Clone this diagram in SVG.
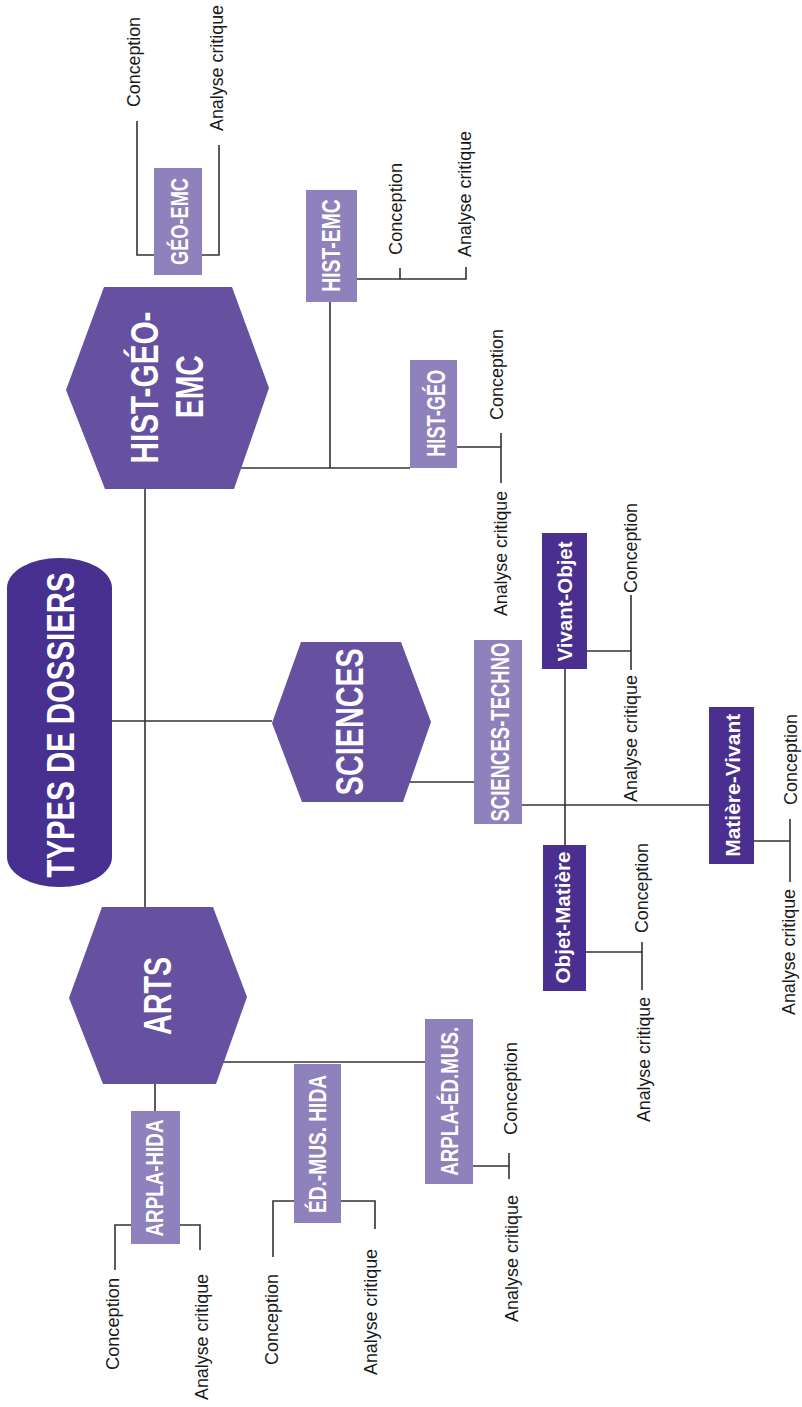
<svg xmlns="http://www.w3.org/2000/svg" width="802" height="1407" viewBox="0 0 802 1407">
<style>
.ln{fill:none;stroke:#333;stroke-width:1.6}
.hex{fill:#6650a0}
.lt{fill:#8f81bb}
.dk{fill:#4a2f90}
.pill{fill:#47308f}
.big{font-family:"Liberation Sans",Arial,sans-serif;font-weight:bold;fill:#fff;text-anchor:middle}
.bt{font-family:"Liberation Sans",Arial,sans-serif;font-weight:bold;fill:#fff;text-anchor:middle}
.sm{font-family:"Liberation Sans",Arial,sans-serif;font-size:18.5px;fill:#1a1a1a}
</style>
<rect width="802" height="1407" fill="#fff"/>
<g id="connectors">
<path class="ln" d="M145,489 V907"/>
<path class="ln" d="M112,721 H272"/>
<path class="ln" d="M241,468 H410"/>
<path class="ln" d="M330,302 V468"/>
<path class="ln" d="M409,782 H474"/>
<path class="ln" d="M522,805 H709"/>
<path class="ln" d="M565,669 V845"/>
<path class="ln" d="M223,1062 H425"/>
<path class="ln" d="M155,1084 V1111"/>
<path class="ln" d="M137,121 V255 H154 M202,255 H219 V145"/>
<path class="ln" d="M357,279 H466 V267 M400,268 V279"/>
<path class="ln" d="M457,447 H501 M501,433 V483"/>
<path class="ln" d="M587,651 H631 M631,595 V670"/>
<path class="ln" d="M754,841 H790 M790,819 V882"/>
<path class="ln" d="M586,952 H642 M642,942 V990"/>
<path class="ln" d="M115,1270 V1225 H131 M180,1225 H200 V1250"/>
<path class="ln" d="M273,1257 V1201 H294 M341,1201 H375 V1229"/>
<path class="ln" d="M473,1166 H509 M509,1153 V1179"/>
</g>
<g id="root">
<rect class="pill" x="7" y="558" width="105" height="329" rx="52" ry="30"/>
<text class="big" font-size="38" textLength="305" lengthAdjust="spacingAndGlyphs" transform="translate(74,725) rotate(-90)">TYPES DE DOSSIERS</text>
</g>
<g id="hist-geo-emc">
<polygon class="hex" points="104,287 232,287 269,388 234,489 105,489 66,390"/>
<text class="big" font-size="38" textLength="152" lengthAdjust="spacingAndGlyphs" transform="translate(158,387.5) rotate(-90)">HIST-GÉO-</text>
<text class="big" font-size="38" textLength="63" lengthAdjust="spacingAndGlyphs" transform="translate(203,386.7) rotate(-90)">EMC</text>
</g>
<g id="sciences">
<polygon class="hex" points="301,642 401,642 431,722 403,802 302,802 272,723"/>
<text class="big" font-size="38.5" textLength="147" lengthAdjust="spacingAndGlyphs" transform="translate(363,721.7) rotate(-90)">SCIENCES</text>
</g>
<g id="arts">
<polygon class="hex" points="102,907 213,907 247,997 216,1084 103,1084 69,998"/>
<text class="big" font-size="38.5" textLength="78" lengthAdjust="spacingAndGlyphs" transform="translate(170.5,996) rotate(-90)">ARTS</text>
</g>
<g id="geo-emc">
<rect class="lt" x="154" y="168" width="48" height="107"/>
<text class="bt" font-size="24.5" textLength="87" lengthAdjust="spacingAndGlyphs" transform="translate(188.3,221.5) rotate(-90)">GÉO-EMC</text>
<text class="sm" textLength="90" lengthAdjust="spacingAndGlyphs" transform="translate(139.5,107) rotate(-90)">Conception</text>
<text class="sm" textLength="126" lengthAdjust="spacingAndGlyphs" transform="translate(222.5,131) rotate(-90)">Analyse critique</text>
</g>
<g id="hist-emc">
<rect class="lt" x="306" y="190" width="51" height="112"/>
<text class="bt" font-size="25" textLength="92.5" lengthAdjust="spacingAndGlyphs" transform="translate(340,245.5) rotate(-90)">HIST-EMC</text>
<text class="sm" textLength="92" lengthAdjust="spacingAndGlyphs" transform="translate(401.5,255) rotate(-90)">Conception</text>
<text class="sm" textLength="126" lengthAdjust="spacingAndGlyphs" transform="translate(471,257) rotate(-90)">Analyse critique</text>
</g>
<g id="hist-geo">
<rect class="lt" x="410" y="360" width="47" height="108"/>
<text class="bt" font-size="25" textLength="87" lengthAdjust="spacingAndGlyphs" transform="translate(444.5,413.3) rotate(-90)">HIST-GÉO</text>
<text class="sm" textLength="91" lengthAdjust="spacingAndGlyphs" transform="translate(503,420) rotate(-90)">Conception</text>
<text class="sm" textLength="125" lengthAdjust="spacingAndGlyphs" transform="translate(506.5,616) rotate(-90)">Analyse critique</text>
</g>
<g id="sciences-techno">
<rect class="lt" x="474" y="640" width="48" height="184"/>
<text class="bt" font-size="26" textLength="179" lengthAdjust="spacingAndGlyphs" transform="translate(509.3,732) rotate(-90)">SCIENCES-TECHNO</text>
</g>
<g id="vivant-objet">
<rect class="dk" x="542" y="533" width="45" height="136"/>
<text class="bt" font-size="21" textLength="120" lengthAdjust="spacingAndGlyphs" transform="translate(571.5,601.5) rotate(-90)">Vivant-Objet</text>
<text class="sm" textLength="90" lengthAdjust="spacingAndGlyphs" transform="translate(636.5,593) rotate(-90)">Conception</text>
<text class="sm" textLength="127" lengthAdjust="spacingAndGlyphs" transform="translate(637,802) rotate(-90)">Analyse critique</text>
</g>
<g id="matiere-vivant">
<rect class="dk" x="709" y="707" width="45" height="157"/>
<text class="bt" font-size="21" textLength="143" lengthAdjust="spacingAndGlyphs" transform="translate(740,785.3) rotate(-90)">Matière-Vivant</text>
<text class="sm" textLength="91" lengthAdjust="spacingAndGlyphs" transform="translate(796.5,805) rotate(-90)">Conception</text>
<text class="sm" textLength="126" lengthAdjust="spacingAndGlyphs" transform="translate(795,1015) rotate(-90)">Analyse critique</text>
</g>
<g id="objet-matiere">
<rect class="dk" x="543" y="845" width="43" height="146"/>
<text class="bt" font-size="21" textLength="132" lengthAdjust="spacingAndGlyphs" transform="translate(570,917.5) rotate(-90)">Objet-Matière</text>
<text class="sm" textLength="90" lengthAdjust="spacingAndGlyphs" transform="translate(647.5,933) rotate(-90)">Conception</text>
<text class="sm" textLength="125" lengthAdjust="spacingAndGlyphs" transform="translate(650,1122) rotate(-90)">Analyse critique</text>
</g>
<g id="arpla-hida">
<rect class="lt" x="131" y="1111" width="49" height="133"/>
<text class="bt" font-size="23" textLength="117" lengthAdjust="spacingAndGlyphs" transform="translate(163.3,1178) rotate(-90)">ARPLA-HIDA</text>
<text class="sm" textLength="92" lengthAdjust="spacingAndGlyphs" transform="translate(119,1370) rotate(-90)">Conception</text>
<text class="sm" textLength="126" lengthAdjust="spacingAndGlyphs" transform="translate(207.5,1400) rotate(-90)">Analyse critique</text>
</g>
<g id="ed-mus-hida">
<rect class="lt" x="294" y="1064" width="47" height="159"/>
<text class="bt" font-size="24" textLength="138" lengthAdjust="spacingAndGlyphs" transform="translate(326,1144) rotate(-90)">ÉD.-MUS. HIDA</text>
<text class="sm" textLength="91" lengthAdjust="spacingAndGlyphs" transform="translate(278,1365) rotate(-90)">Conception</text>
<text class="sm" textLength="126" lengthAdjust="spacingAndGlyphs" transform="translate(376.5,1375) rotate(-90)">Analyse critique</text>
</g>
<g id="arpla-ed-mus">
<rect class="lt" x="425" y="1019" width="48" height="165"/>
<text class="bt" font-size="23.5" textLength="149" lengthAdjust="spacingAndGlyphs" transform="translate(458.3,1101.3) rotate(-90)">ARPLA-ÉD.MUS.</text>
<text class="sm" textLength="93" lengthAdjust="spacingAndGlyphs" transform="translate(516.5,1135) rotate(-90)">Conception</text>
<text class="sm" textLength="127" lengthAdjust="spacingAndGlyphs" transform="translate(517.5,1322) rotate(-90)">Analyse critique</text>
</g>
</svg>
